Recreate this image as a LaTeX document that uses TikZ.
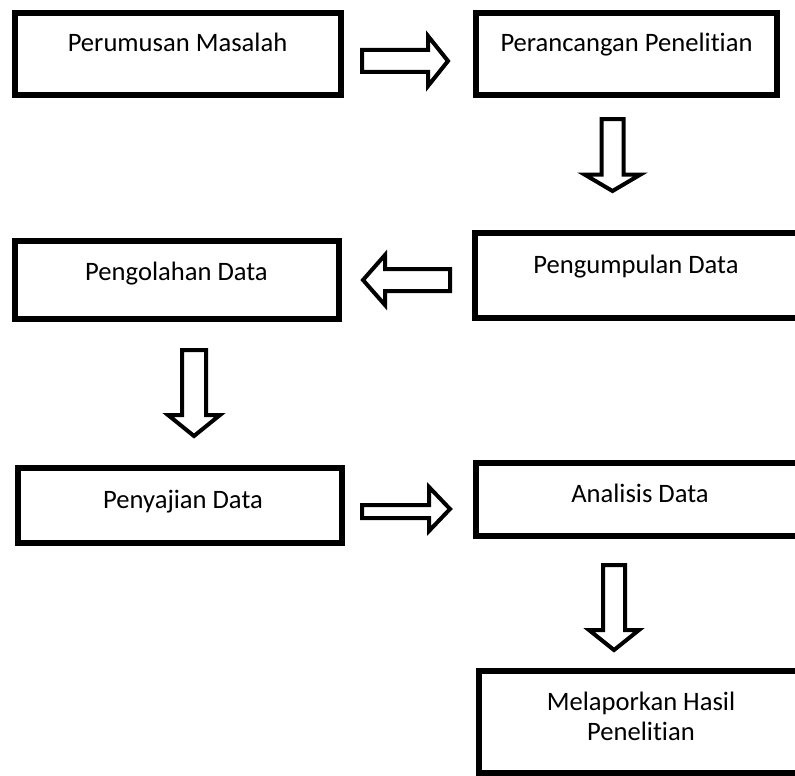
\documentclass[tikz,border=0pt]{standalone}
\usepackage{fontspec}
\setmainfont{Carlito}[Ligatures=NoCommon]
\begin{document}
\begin{tikzpicture}[x=1pt,y=-1pt,
  box/.style={draw=black, line width=6pt, inner sep=0pt, outer sep=0pt, anchor=north west},
  barrow/.style={draw=black, line width=4pt, line join=miter, fill=white},
  lbl/.style={anchor=base, inner sep=0pt, text=black, font=\fontsize{26.6}{31}\selectfont}]
\useasboundingbox (0,0) rectangle (795,776);
\clip (0,0) rectangle (795,776);
\fill[white] (0,0) rectangle (795,776);

% boxes
\node[box, minimum width=326pt, minimum height=82pt]  (b1) at (15,13)  {};
\node[box, minimum width=301pt, minimum height=82pt]  (b2) at (476,13) {};
\node[box, minimum width=340pt, minimum height=85pt]  (b3) at (475,233) {};
\node[box, minimum width=324pt, minimum height=78pt]  (b4) at (15,241) {};
\node[box, minimum width=324pt, minimum height=75pt]  (b5) at (18,468) {};
\node[box, minimum width=340pt, minimum height=73pt]  (b6) at (476,463) {};
\node[box, minimum width=340pt, minimum height=102pt] (b7) at (479,671) {};

% labels
\node[lbl] (t1) at (177.5,52) {Perumusan Masalah};
\node[lbl] (t2) at (626.5,52) {Perancangan Penelitian};
\node[lbl] (t3) at (636,273) {Pengumpulan Data};
\node[lbl] (t4) at (176.5,280) {Pengolahan Data};
\node[lbl] (t5) at (183,508) {Penyajian Data};
\node[lbl] (t6) at (640,502) {Analisis Data};
\node[lbl] (t7a) at (641,710) {Melaporkan Hasil};
\node[lbl] (t7b) at (641,740) {Penelitian};

% block arrows
\draw[barrow] (362,50) -- (428,50) -- (428,36) -- (448,61) -- (428,86) -- (428,72) -- (362,72) -- cycle;
\draw[barrow] (601.5,119) -- (601.5,174.5) -- (584.5,174.5) -- (612.5,191) -- (640.5,174.5) -- (623.5,174.5) -- (623.5,119) -- cycle;
\draw[barrow] (450,269) -- (385,269) -- (385,255) -- (363,280) -- (385,305) -- (385,291) -- (450,291) -- cycle;
\draw[barrow] (182,350) -- (182,415) -- (168,415) -- (194,436) -- (220,415) -- (206,415) -- (206,350) -- cycle;
\draw[barrow] (362,505) -- (429,505) -- (429,487) -- (450,509) -- (429,531) -- (429,518) -- (362,518) -- cycle;
\draw[barrow] (603,565) -- (603,630) -- (589,630) -- (614,650) -- (639,630) -- (625,630) -- (625,565) -- cycle;
\end{tikzpicture}
\end{document}
